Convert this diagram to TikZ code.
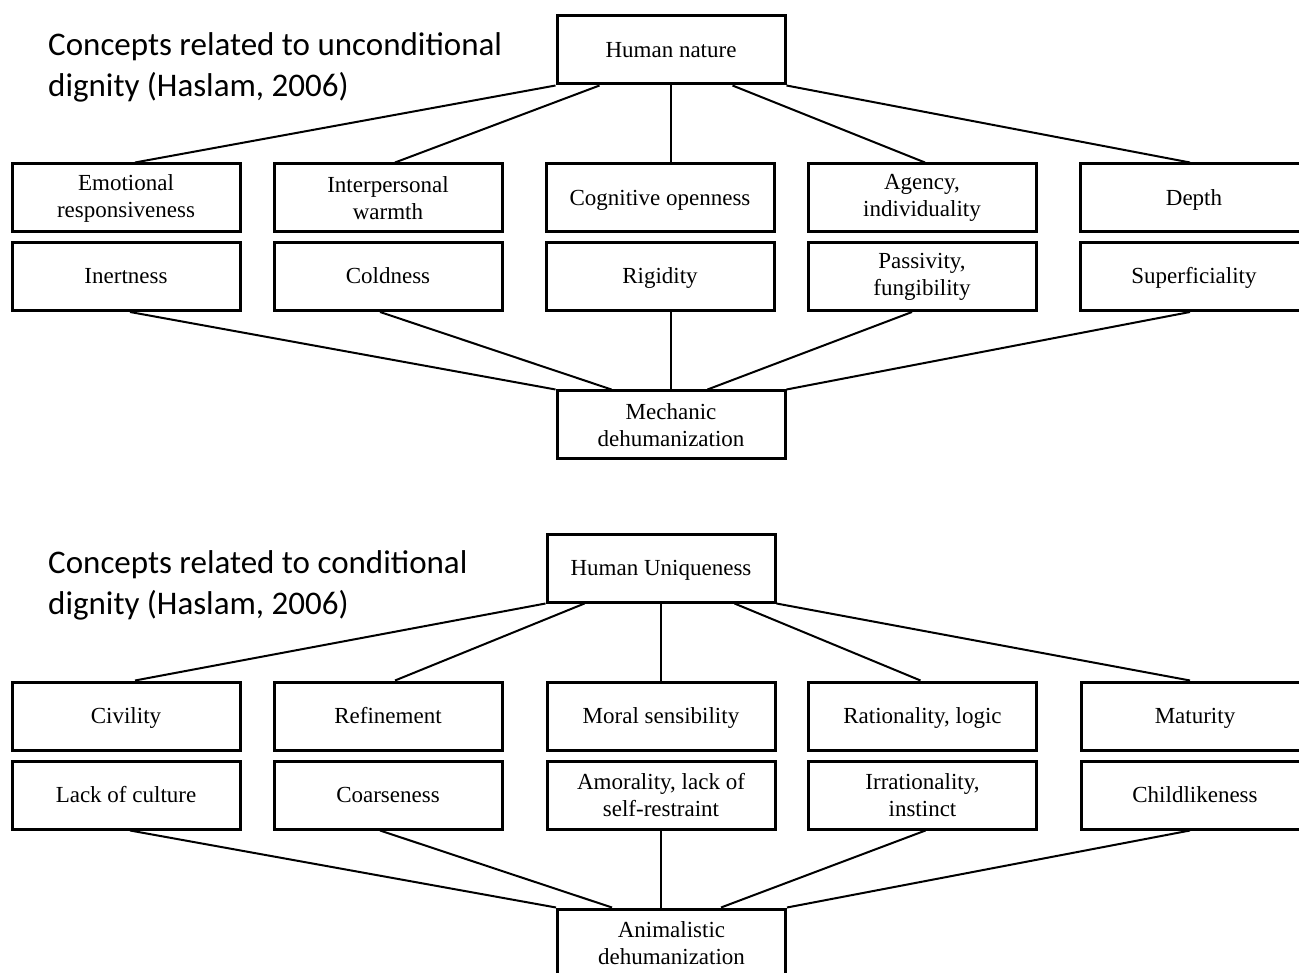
\documentclass[tikz,border=0pt]{standalone}
\usepackage{fontspec}
\setmainfont{Liberation Serif}
\newfontfamily\titlefont{Carlito}
\usetikzlibrary{calc}
\tikzset{
  bx/.style={draw, line width=3pt, rectangle, minimum width=228pt, minimum height=68pt,
    inner sep=0pt, align=center, font=\fontsize{23}{27}\selectfont},
  one/.style={text height=18pt, text depth=3pt},
  conn/.style={line width=2pt},
  ttl/.style={anchor=base west, inner sep=0pt, align=left, font=\titlefont\fontsize{33}{41}\selectfont}
}
\begin{document}
\begin{tikzpicture}[x=1pt,y=-1pt]
\useasboundingbox (0,0) rectangle (1299,973);
\clip (0,0) rectangle (1299,973);
\fill[white] (0,0) rectangle (1299,973);

% ---------- top section ----------
\node[ttl] (t1) at (48,97) {Concepts related to unconditional\\dignity (Haslam, 2006)};
\node[bx,one] (hn) at (671,50) {Human nature};
\node[bx] (a1) at (126,198) {Emotional\\responsiveness};
\node[bx] (a2) at (388,198) {Interpersonal\\warmth};
\node[bx,one] (a3) at (660,198) {Cognitive openness};
\node[bx] (a4) at (922,198) {Agency,\\individuality};
\node[bx,one] (a5) at (1194,198) {Depth};
\node[bx,one] (b1) at (126,276.5) {Inertness};
\node[bx,one] (b2) at (388,276.5) {Coldness};
\node[bx,one] (b3) at (660,276.5) {Rigidity};
\node[bx] (b4) at (922,276.5) {Passivity,\\fungibility};
\node[bx,one] (b5) at (1194,276.5) {Superficiality};
\node[bx] (md) at (671,425) {Mechanic\\dehumanization};

\draw[conn] (hn.south west) -- ([xshift=9pt]a1.north);
\draw[conn] ([xshift=44pt]hn.south west) -- ([xshift=7pt]a2.north);
\draw[conn] (hn.south) -- (hn.south |- a3.north);
\draw[conn] ([xshift=-54pt]hn.south east) -- ([xshift=3pt]a4.north);
\draw[conn] (hn.south east) -- ([xshift=-4pt]a5.north);

\draw[conn] ([xshift=4pt]b1.south) -- (md.north west);
\draw[conn] ([xshift=-8pt]b2.south) -- ([xshift=56pt]md.north west);
\draw[conn] (md.north) -- (md.north |- b3.south);
\draw[conn] ([xshift=-10pt]b4.south) -- ([xshift=-79pt]md.north east);
\draw[conn] ([xshift=-4pt]b5.south) -- (md.north east);

% ---------- bottom section ----------
\node[ttl] (t2) at (48,614) {Concepts related to conditional\\dignity (Haslam, 2006)};
\node[bx,one] (hu) at (661,568) {Human Uniqueness};
\node[bx,one] (c1) at (126,716) {Civility};
\node[bx,one] (c2) at (388,716) {Refinement};
\node[bx,one] (c3) at (661,716) {Moral sensibility};
\node[bx,one] (c4) at (922.5,716) {Rationality, logic};
\node[bx,one] (c5) at (1195,716) {Maturity};
\node[bx,one] (d1) at (126,795) {Lack of culture};
\node[bx,one] (d2) at (388,795) {Coarseness};
\node[bx] (d3) at (661,795) {Amorality, lack of\\self-restraint};
\node[bx] (d4) at (922.5,795) {Irrationality,\\instinct};
\node[bx,one] (d5) at (1195,795) {Childlikeness};
\node[bx] (ad) at (671.5,943) {Animalistic\\dehumanization};

\draw[conn] (hu.south west) -- ([xshift=9pt]c1.north);
\draw[conn] ([xshift=39pt]hu.south west) -- ([xshift=7pt]c2.north);
\draw[conn] (hu.south) -- (hu.south |- c3.north);
\draw[conn] ([xshift=-42pt]hu.south east) -- ([xshift=-2pt]c4.north);
\draw[conn] (hu.south east) -- ([xshift=-5pt]c5.north);

\draw[conn] ([xshift=4pt]d1.south) -- (ad.north west);
\draw[conn] ([xshift=-8pt]d2.south) -- ([xshift=56pt]ad.north west);
\draw[conn] (d3.south) -- (d3.south |- ad.north);
\draw[conn] ([xshift=3pt]d4.south) -- ([xshift=-66pt]ad.north east);
\draw[conn] ([xshift=-5pt]d5.south) -- (ad.north east);
\end{tikzpicture}
\end{document}
